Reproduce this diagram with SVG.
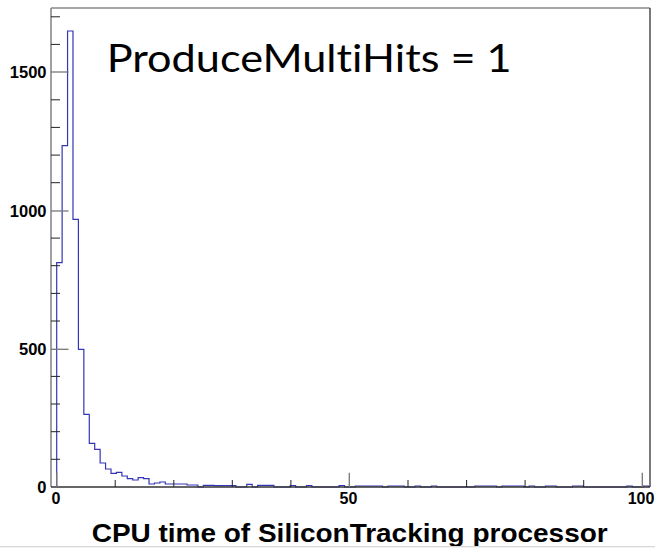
<svg xmlns="http://www.w3.org/2000/svg" width="655" height="548" viewBox="0 0 655 548">
<style>
.lbl{font-family:"Liberation Sans",Arial,sans-serif;font-weight:bold;fill:#000}
.minor{stroke:#222;stroke-width:1}
.major{stroke:#777;stroke-width:1.3}
.ann{font-family:Lato,"Open Sans",sans-serif;font-variant-ligatures:none;font-feature-settings:"liga" 0,"clig" 0;fill:#000}
</style>
<rect width="655" height="548" fill="#fff"/>
<g id="histogram">
<path fill="none" stroke="#3535b8" stroke-width="1.2" d="M56.7,487 V262.7 H62.13 V145.7 H67.56 V31 H72.99 V219.3 H78.42 V349.3 H83.85 V414.3 H89.28 V443.3 H94.71 V449.3 H100.14 V463 H105.57 V469 H111 V473.3 H116.43 V472.3 H121.86 V476 H127.29 V478.7 H132.72 V480 H138.15 V477.7 H143.58 V478.7 H149.01 V484 H154.44 V483 H159.87 V482 H165.3 V484 H187.02 V485 H197.88 V487 H203.31 V485.3 H214.17 V485.7 H235.89 V487 H246.75 V484.3 H252.18 V487 H257.61 V485.3 H273.9 V487 H290.19 V485.5 H295.62 V487 H306.48 V485.5 H311.91 V487 H339.06 V485.5 H344.49 V487 H355.35 V486 H382.5 V487 H387.93 V486 H404.22 V487 H415.08 V486 H420.51 V487 H431.37 V486 H436.8 V487 H474.81 V486 H496.53 V487 H501.96 V486 H523.68 V487 H529.11 V486 H534.54 V487 H545.4 V486 H556.26 V487 H572.55 V486 H583.41 V487 H626.85 V486 H632.28 V487 H643.14 V486 H648.57 V487"/>
</g>
<g id="frame">
<line x1="51" y1="8" x2="650" y2="8" stroke="#888" stroke-width="1.5"/>
<line x1="51" y1="8" x2="51" y2="487" stroke="#888" stroke-width="1.6"/>
<line x1="650" y1="8" x2="650" y2="487" stroke="#333" stroke-width="1.3"/>
<line x1="51" y1="487" x2="650" y2="487" stroke="#333" stroke-width="1.3"/>
</g>
<g id="y-axis">
<g class="minor">
<line x1="51" y1="459.3" x2="60" y2="459.3"/>
<line x1="51" y1="431.7" x2="60" y2="431.7"/>
<line x1="51" y1="404.0" x2="60" y2="404.0"/>
<line x1="51" y1="376.4" x2="60" y2="376.4"/>
<line x1="51" y1="321.0" x2="60" y2="321.0"/>
<line x1="51" y1="293.4" x2="60" y2="293.4"/>
<line x1="51" y1="265.7" x2="60" y2="265.7"/>
<line x1="51" y1="238.1" x2="60" y2="238.1"/>
<line x1="51" y1="182.7" x2="60" y2="182.7"/>
<line x1="51" y1="155.1" x2="60" y2="155.1"/>
<line x1="51" y1="127.4" x2="60" y2="127.4"/>
<line x1="51" y1="99.8" x2="60" y2="99.8"/>
<line x1="51" y1="44.4" x2="60" y2="44.4"/>
<line x1="51" y1="16.8" x2="60" y2="16.8"/>
</g>
<g class="major">
<line x1="51" y1="349.3" x2="68.5" y2="349.3"/>
<line x1="51" y1="211" x2="68.5" y2="211"/>
<line x1="51" y1="72" x2="68.5" y2="72"/>
</g>
<g class="lbl" font-size="16.5" text-anchor="end">
<text x="46.5" y="493.3">0</text>
<text x="46.5" y="355.3">500</text>
<text x="46.5" y="217">1000</text>
<text x="46.5" y="78">1500</text>
</g>
</g>
<g id="x-axis">
<g class="minor">
<line x1="115.2" y1="487" x2="115.2" y2="480"/>
<line x1="173.8" y1="487" x2="173.8" y2="480"/>
<line x1="232.3" y1="487" x2="232.3" y2="480"/>
<line x1="290.9" y1="487" x2="290.9" y2="480"/>
<line x1="408" y1="487" x2="408" y2="480"/>
<line x1="466.6" y1="487" x2="466.6" y2="480"/>
<line x1="525.1" y1="487" x2="525.1" y2="480"/>
<line x1="583.7" y1="487" x2="583.7" y2="480"/>
</g>
<g class="major">
<line x1="56.7" y1="487" x2="56.7" y2="472.7"/>
<line x1="349.3" y1="487" x2="349.3" y2="472.7"/>
<line x1="642.3" y1="487" x2="642.3" y2="472.7"/>
</g>
<g class="lbl" font-size="16" text-anchor="middle">
<text x="56" y="504">0</text>
<text x="348.5" y="504">50</text>
<text x="641" y="504">100</text>
</g>
<text class="lbl" x="91.7" y="541.7" font-size="25" textLength="516" lengthAdjust="spacingAndGlyphs">CPU time of SiliconTracking processor</text>
</g>
<g id="annotation">
<text class="ann" x="106.7" y="71.7" font-size="38.7" textLength="405" lengthAdjust="spacingAndGlyphs">ProduceMultiHits = 1</text>
</g>
<line x1="0" y1="546.5" x2="655" y2="546.5" stroke="#d8d8d8" stroke-width="1"/>
<rect x="0" y="547" width="655" height="1" fill="#f2f2f2"/>
</svg>
